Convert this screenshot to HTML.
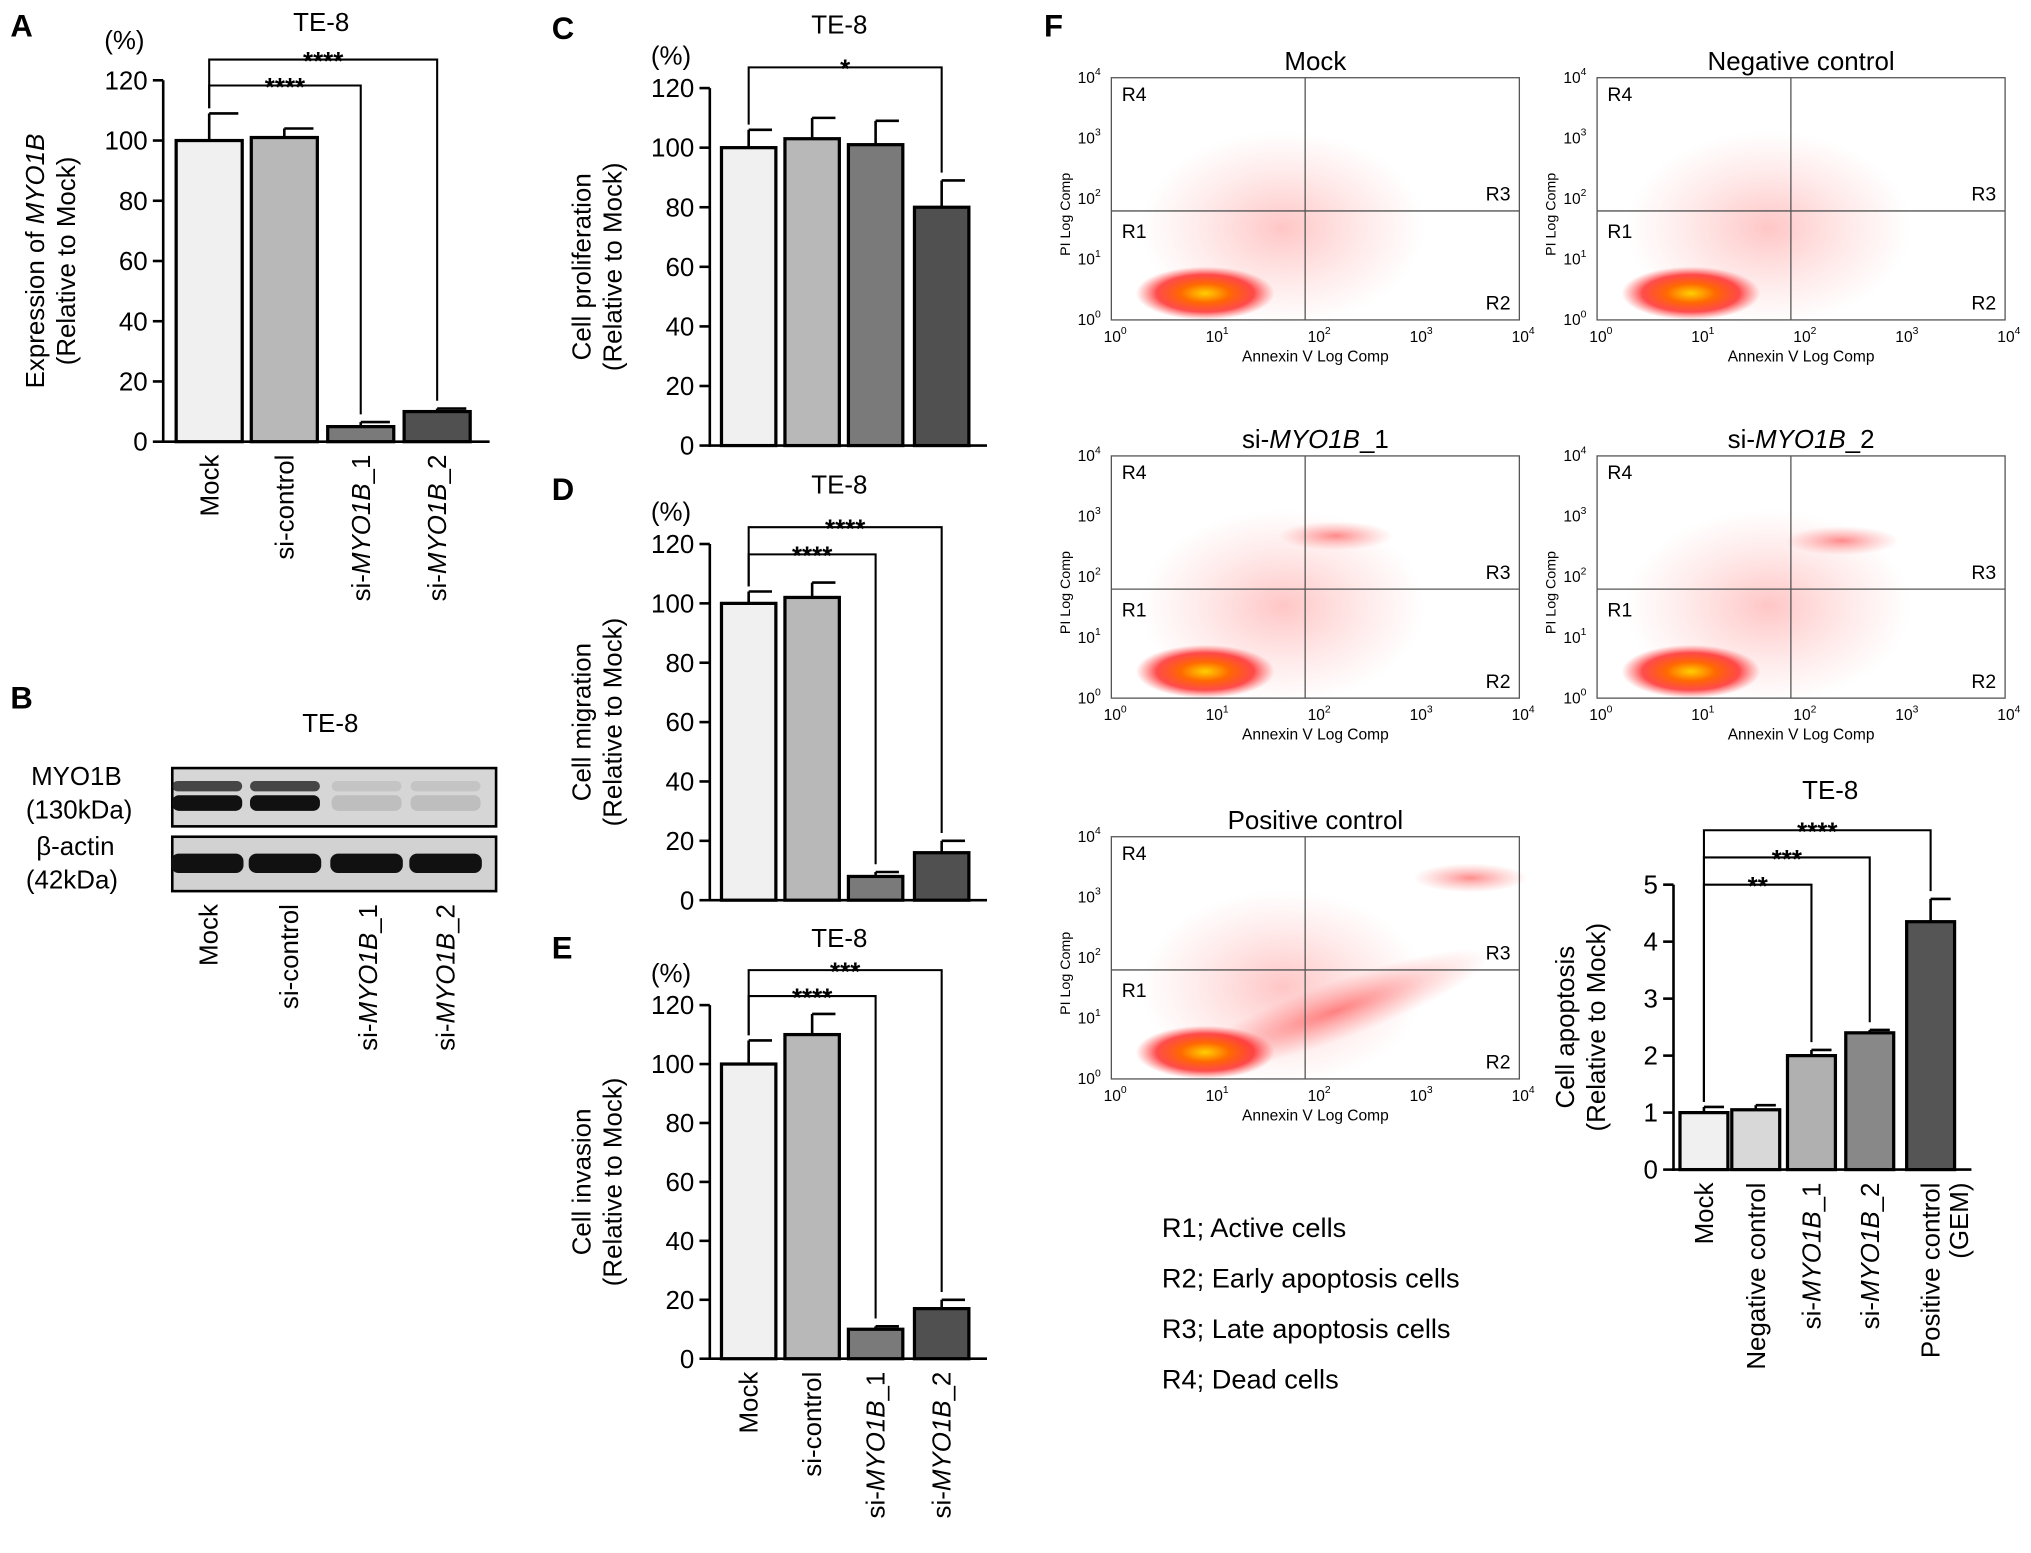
<!DOCTYPE html>
<html><head><meta charset="utf-8"><style>
html,body{margin:0;padding:0;background:#fff;}
svg{display:block;font-family:"Liberation Sans",Arial,sans-serif;}
</style></head><body>
<svg id="fig" width="2031" height="1553" viewBox="0 0 1568 1199" preserveAspectRatio="none" xmlns="http://www.w3.org/2000/svg">
<defs>
<radialGradient id="blob"><stop offset="0" stop-color="#ffd000"/><stop offset="0.35" stop-color="#ff6a00"/><stop offset="0.7" stop-color="#ff2020" stop-opacity="0.8"/><stop offset="1" stop-color="#ff4040" stop-opacity="0"/></radialGradient>
<radialGradient id="haze"><stop offset="0" stop-color="#ff3030" stop-opacity="0.55"/><stop offset="1" stop-color="#ff6060" stop-opacity="0"/></radialGradient>
</defs>
<g id="root"></g>
</svg>
<script>
// ---- data ----
const catA = ["Mock","si-control","si-MYO1B_1","si-MYO1B_2"];
const valA = [100,101,5,10];
const errA = [9,3,1.5,1];
const valC = [100,103,101,80];
const errC = [6,7,8,9];
const valD = [100,102,8,16];
const errD = [4,5,1.5,4];
const valE = [100,110,10,17];
const errE = [8,7,1,3];
const ticks120 = [0,20,40,60,80,100,120];
const catF = ["Mock","Negative control","si-MYO1B_1","si-MYO1B_2","Positive control (GEM)"];
const valF = [1.0,1.05,2.0,2.4,4.35];
const errF = [0.1,0.08,0.1,0.05,0.4];
const ticks5 = [0,1,2,3,4,5];

const NS="http://www.w3.org/2000/svg";
const root=document.getElementById('root');
function el(tag,attrs,parent,text){const e=document.createElementNS(NS,tag);for(const k in attrs)e.setAttribute(k,attrs[k]);if(text!==undefined)e.textContent=text;(parent||root).appendChild(e);return e;}

function barChart(o){
  const g=el('g',{});
  
  
  const y=v=>o.y0-(v-o.tmin)/(o.tmax-o.tmin)*(o.y0-o.y1);
  const ax=el('line',{x1:o.ax,y1:y(o.tmax),x2:o.ax,y2:o.y0+1,stroke:'#000','stroke-width':2},g);
  
  const bx=el('line',{x1:o.ax-1,y1:o.y0,x2:o.axEnd,y2:o.y0,stroke:'#000','stroke-width':2},g);
  
  o.ticks.forEach(t=>{
    el('line',{x1:o.ax-8,x2:o.ax,y1:y(t),y2:y(t),stroke:'#000','stroke-width':2},g);
    const tl=el('text',{x:o.ax-12,y:y(t)+7,'text-anchor':'end','font-size':20},g,String(t));
    
  });
  o.vals.forEach((v,i)=>{
    const x=o.bx[i],w=o.bw;
    const top=y(v+o.errs[i]);
    el('line',{x1:x+w/2,x2:x+w/2,y1:y(v),y2:top,stroke:'#000','stroke-width':2},g);
    el('line',{x1:x+w/2,x2:x+w-3,y1:top,y2:top,stroke:'#000','stroke-width':2},g);
    const r=el('rect',{x:x,y:y(v),width:w,height:o.y0-y(v),fill:o.colors[i],stroke:'#000','stroke-width':2.5},g);
    
    
  });
  if(o.labels){o.labels.forEach((lab,i)=>{
    const cx=o.bx[i]+o.bw/2+7;
    const t=el('text',{x:0,y:0,'text-anchor':'end','font-size':20,transform:`translate(${cx},${o.y0+10}) rotate(-90)`},g);
    
    if(lab.startsWith('si-MYO1B')){el('tspan',{},t,'si-');el('tspan',{'font-style':'italic'},t,'MYO1B');el('tspan',{},t,lab.slice(8));}
    else if(lab==='Positive control (GEM)'){t.textContent='Positive control';const t2=el('text',{x:0,y:0,'text-anchor':'end','font-size':20,transform:`translate(${cx+22},${o.y0+10}) rotate(-90)`},g,'(GEM)');}
    else t.textContent=lab;
  });}
  (o.sig||[]).forEach(s=>{
    const x1=o.bx[s[0]]+o.bw/2, x2=o.bx[s[1]]+o.bw/2;
    const p=el('path',{d:`M${x1},${y(o.vals[s[0]]+o.errs[s[0]])-4} V${s[2]} H${x2} V${y(o.vals[s[1]]+o.errs[s[1]])-6}`,fill:'none',stroke:'#000','stroke-width':1.6},g);
    
    const st=el('text',{x:(x1+x2)/2,y:s[2]+8,'text-anchor':'middle','font-size':20,'font-weight':'bold'},g,s[3]);
    
  });
  if(o.title){const t=el('text',{x:o.titleX,y:o.titleY,'text-anchor':'middle','font-size':20},g,o.title);}
  if(o.unit){const t=el('text',{x:o.ax-30,y:o.unitY||(y(o.tmax)-18),'text-anchor':'middle','font-size':20},g,o.unit);}
  const cy=(o.y0+y(o.tmax))/2;
  const yt=el('text',{x:0,y:0,'text-anchor':'middle','font-size':20,transform:`translate(${o.ytX},${cy}) rotate(-90)`},g);
  
  o.ytitle[0].forEach(p=>el('tspan',p.i?{'font-style':'italic'}:{},yt,p.t));
  el('tspan',{x:0,dy:24},yt,o.ytitle[1]);
}
const c4=['#f0f0f0','#b8b8b8','#7a7a7a','#505050'];
barChart({name:'panel-a-chart',vals:valA,errs:errA,labels:catA,ticks:ticks120,tmin:0,tmax:120,y0:341,y1:62,ax:126,axEnd:378,bx:[136,194,253,312],bw:51,colors:c4,
 sig:[[0,2,66,'****'],[0,3,46,'****']],title:'TE-8',titleX:248,titleY:24,unit:'(%)',unitY:38,ytX:34,ytitle:[[{t:'Expression of '},{t:'MYO1B',i:1}],'(Relative to Mock)']});
barChart({name:'panel-c-chart',vals:valC,errs:errC,ticks:ticks120,tmin:0,tmax:120,y0:344,y1:68,ax:548,axEnd:762,bx:[557,606,655,706],bw:42,colors:c4,
 sig:[[0,3,52,'*']],title:'TE-8',titleX:648,titleY:26,unit:'(%)',ytX:456,ytitle:[[{t:'Cell proliferation'}],'(Relative to Mock)']});
barChart({name:'panel-d-chart',vals:valD,errs:errD,ticks:ticks120,tmin:0,tmax:120,y0:695,y1:420,ax:548,axEnd:762,bx:[557,606,655,706],bw:42,colors:c4,
 sig:[[0,2,428,'****'],[0,3,407,'****']],title:'TE-8',titleX:648,titleY:381,unit:'(%)',ytX:456,ytitle:[[{t:'Cell migration'}],'(Relative to Mock)']});
barChart({name:'panel-e-chart',vals:valE,errs:errE,labels:catA,ticks:ticks120,tmin:0,tmax:120,y0:1049,y1:776,ax:548,axEnd:762,bx:[557,606,655,706],bw:42,colors:c4,
 sig:[[0,2,769,'****'],[0,3,749,'***']],title:'TE-8',titleX:648,titleY:731,unit:'(%)',ytX:456,ytitle:[[{t:'Cell invasion'}],'(Relative to Mock)']});
barChart({name:'panel-f-apoptosis-chart',vals:valF,errs:errF,labels:catF,ticks:ticks5,tmin:0,tmax:5,y0:903,y1:683,ax:1292,axEnd:1522,bx:[1297,1337,1380,1425,1472],bw:37,colors:['#f0f0f0','#d8d8d8','#b0b0b0','#888888','#555555'],
 sig:[[0,2,683,'**'],[0,3,662,'***'],[0,4,641,'****']],title:'TE-8',titleX:1413,titleY:617,ytX:1215,ytitle:[[{t:'Cell apoptosis'}],'(Relative to Mock)']});

[['A',8,28],['B',8,547],['C',426,30],['D',426,386],['E',426,740],['F',806,28]].forEach(a=>{
  const t=el('text',{x:a[1],y:a[2],'font-size':24,'font-weight':'bold'},root,a[0]);
  
});

(function(){
  const g=el('g',{});
  
  el('text',{x:255,y:565,'text-anchor':'middle','font-size':20},g,'TE-8');
  [['MYO1B',24,606],['(130kDa)',20,632],['β-actin',28,660],['(42kDa)',20,686]].forEach(a=>el('text',{x:a[1],y:a[2],'font-size':20},g,a[0]));
  el('rect',{x:133,y:593,width:250,height:45,fill:'#d6d6d6',stroke:'#000','stroke-width':2},g);
  el('rect',{x:133,y:646,width:250,height:42,fill:'#d2d2d2',stroke:'#000','stroke-width':2},g);
  [[160,1],[220,1],[283,0.12],[344,0.12]].forEach(b=>{
    el('rect',{x:b[0]-27,y:603,width:54,height:8,rx:4,fill:'#222','fill-opacity':b[1]*0.8},g);
    el('rect',{x:b[0]-27,y:614,width:54,height:12,rx:5,fill:'#111','fill-opacity':b[1]},g);
    el('rect',{x:b[0]-28,y:659,width:56,height:15,rx:6,fill:'#111'},g);
  });
  ['Mock','si-control','si-MYO1B_1','si-MYO1B_2'].forEach((lab,i)=>{
    const cx=[168,230,291,351][i];
    const t=el('text',{'text-anchor':'end','font-size':20,transform:`translate(${cx},${698}) rotate(-90)`},g);
    if(lab.startsWith('si-MYO1B')){el('tspan',{},t,'si-');el('tspan',{'font-style':'italic'},t,'MYO1B');el('tspan',{},t,lab.slice(8));}else t.textContent=lab;
  });
})();

const flowTitles=['Mock','Negative control','si-MYO1B_1','si-MYO1B_2','Positive control'];
const flowPos=[[858,60],[1233,60],[858,352],[1233,352],[858,646]];
const upperBlob=[[0,0],[0,0],[0.55,0.33],[0.6,0.35],[0.88,0.17]];
flowPos.forEach((p,k)=>{
  const [x,y]=p,w=315,h=187;
  const g=el('g',{});
  
  const t=el('text',{x:x+w/2,y:y-6,'text-anchor':'middle','font-size':20},g);
  if(flowTitles[k].startsWith('si-MYO1B')){el('tspan',{},t,'si-');el('tspan',{'font-style':'italic'},t,'MYO1B');el('tspan',{},t,flowTitles[k].slice(8));}else t.textContent=flowTitles[k];
  el('ellipse',{cx:x+w*0.42,cy:y+h*0.62,rx:w*0.35,ry:h*0.4,fill:'url(#haze)','fill-opacity':0.5},g);
  if(k===4) el('ellipse',{cx:x+w*0.55,cy:y+h*0.72,rx:w*0.4,ry:h*0.12,fill:'url(#haze)',transform:`rotate(-20 ${x+w*0.55} ${y+h*0.72})`},g);
  if(upperBlob[k][0]) el('ellipse',{cx:x+w*upperBlob[k][0],cy:y+h*upperBlob[k][1],rx:w*0.14,ry:h*0.06,fill:'url(#haze)'},g);
  el('ellipse',{cx:x+w*0.23,cy:y+h*0.89,rx:w*0.17,ry:h*0.11,fill:'url(#blob)'},g);
  el('rect',{x:x,y:y,width:w,height:h,fill:'none',stroke:'#555','stroke-width':1},g);
  el('line',{x1:x+w*0.475,x2:x+w*0.475,y1:y,y2:y+h,stroke:'#555','stroke-width':1},g);
  el('line',{x1:x,x2:x+w,y1:y+h*0.55,y2:y+h*0.55,stroke:'#555','stroke-width':1},g);
  [['R4',x+8,y+18],['R1',x+8,y+h*0.55+21],['R3',x+w-26,y+h*0.55-8],['R2',x+w-26,y+h-8]].forEach(r=>el('text',{x:r[1],y:r[2],'font-size':15},g,r[0]));
  for(let i=0;i<5;i++){
    const tx=x+i*w/4, ty=y+h-i*h/4;
    const a=el('text',{x:tx-6,y:y+h+17,'font-size':12},g,'10');el('tspan',{dy:-6,'font-size':8},a,String(i));
    const b=el('text',{x:x-26,y:ty+4,'font-size':12},g,'10');el('tspan',{dy:-6,'font-size':8},b,String(i));
  }
  el('text',{x:x+w/2,y:y+h+32,'text-anchor':'middle','font-size':12},g,'Annexin V Log Comp');
  el('text',{'text-anchor':'middle','font-size':11,transform:`translate(${x-32},${y+h/2+12}) rotate(-90)`},g,'PI Log Comp');
});

['R1; Active cells','R2; Early apoptosis cells','R3; Late apoptosis cells','R4; Dead cells'].forEach((s,i)=>{
  const t=el('text',{x:897,y:955+i*39,'font-size':21},root,s);
  
});
</script>
</body></html>
